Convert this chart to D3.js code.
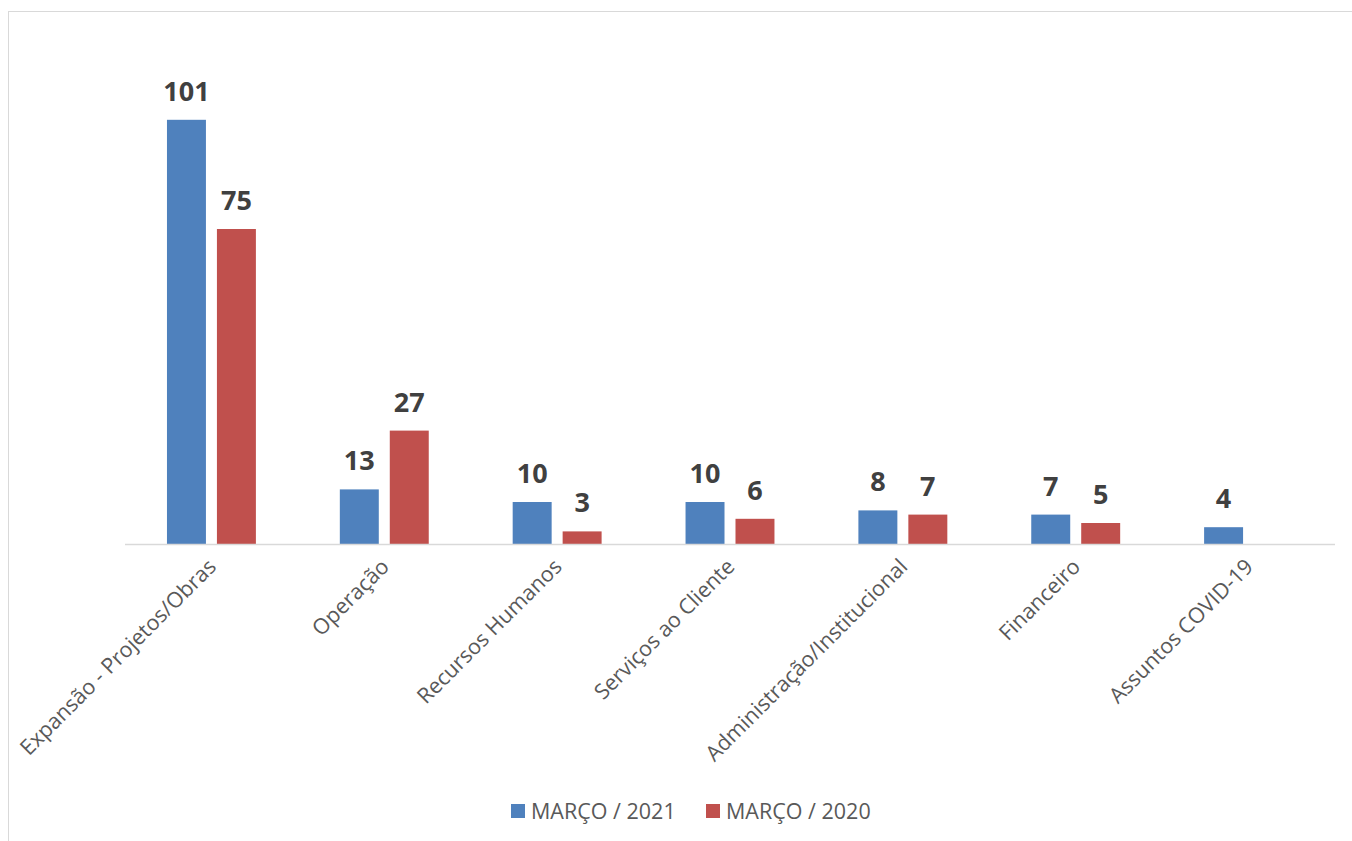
<!DOCTYPE html>
<html lang="pt">
<head>
    <meta charset="UTF-8">
    <title>Março 2021 x Março 2020</title>
    <script src="https://cdnjs.cloudflare.com/ajax/libs/d3/7.8.5/d3.min.js"></script>
    <style>
        body {
            margin: 0;
            padding: 0;
            background-color: #ffffff;
            font-family: "Open Sans", Arial, sans-serif;
        }
        svg { display: block; }
        .axis-label { fill: #595959; font-size: 21.5px; }
        .value-label { fill: #404040; font-size: 27px; font-weight: bold; }
        .legend-label { fill: #595959; font-size: 21.5px; }
    </style>
</head>
<body>
    <div id="chart"></div>

    <script>
        const categories = [
            "Expansão - Projetos/Obras",
            "Operação",
            "Recursos Humanos",
            "Serviços ao Cliente",
            "Administração/Institucional",
            "Financeiro",
            "Assuntos COVID-19"
        ];
        const seriesNames = ["MARÇO / 2021", "MARÇO / 2020"];
        const values2021 = [101, 13, 10, 10, 8, 7, 4];
        const values2020 = [75, 27, 3, 6, 7, 5, null];
        const seriesColors = ["#4f81bd", "#c0504d"];

        const width = 1352;
        const height = 841;
        const plot = { left: 125, right: 1335, top: 40, bottom: 544 };

        const svg = d3.select("#chart")
            .append("svg")
            .attr("width", width)
            .attr("height", height);

        // outer chart border (right/bottom edges fall off the page)
        svg.append("rect")
            .attr("x", 8.5)
            .attr("y", 11.5)
            .attr("width", width)
            .attr("height", height)
            .style("fill", "none")
            .style("stroke", "#d9d9d9");

        const x0 = d3.scaleBand()
            .domain(categories)
            .range([plot.left, plot.right])
            .padding(0);

        const x1 = d3.scaleBand()
            .domain(seriesNames)
            .range([0, x0.bandwidth()])
            .paddingInner(0.22)
            .paddingOuter(0.84);

        const y = d3.scaleLinear()
            .domain([0, 120])
            .range([plot.bottom, plot.top]);

        const rows = [];
        categories.forEach((c, i) => {
            [values2021, values2020].forEach((vals, s) => {
                if (vals[i] != null) {
                    rows.push({ category: c, series: seriesNames[s], color: seriesColors[s], value: vals[i] });
                }
            });
        });

        // bars
        svg.append("g")
            .selectAll("rect")
            .data(rows)
            .enter()
            .append("rect")
            .attr("x", d => x0(d.category) + x1(d.series))
            .attr("y", d => y(d.value))
            .attr("width", x1.bandwidth())
            .attr("height", d => y(0) - y(d.value))
            .style("fill", d => d.color);

        // value labels
        svg.append("g")
            .selectAll("text")
            .data(rows)
            .enter()
            .append("text")
            .attr("class", "value-label")
            .attr("x", d => x0(d.category) + x1(d.series) + x1.bandwidth() / 2)
            .attr("y", d => y(d.value) - 19)
            .attr("text-anchor", "middle")
            .text(d => d.value);

        // baseline
        svg.append("line")
            .attr("x1", plot.left)
            .attr("x2", plot.right)
            .attr("y1", y(0) + 0.5)
            .attr("y2", y(0) + 0.5)
            .style("stroke", "#d9d9d9")
            .style("stroke-width", 1.5);

        // rotated category labels
        svg.append("g")
            .selectAll("text")
            .data(categories)
            .enter()
            .append("text")
            .attr("class", "axis-label")
            .attr("text-anchor", "end")
            .attr("transform", d => {
                const cx = x0(d) + x0.bandwidth() / 2 + 6;
                return `translate(${cx},${y(0) + 24}) rotate(-45)`;
            })
            .text(d => d);

        // legend
        const legend = svg.append("g").attr("transform", "translate(511,804)");
        const legendX = [0, 195];
        seriesNames.forEach((name, i) => {
            const g = legend.append("g").attr("transform", `translate(${legendX[i]},0)`);
            g.append("rect")
                .attr("width", 14)
                .attr("height", 14)
                .style("fill", seriesColors[i]);
            g.append("text")
                .attr("class", "legend-label")
                .attr("x", 20)
                .attr("y", 14.5)
                .text(name);
        });
    </script>
</body>
</html>
